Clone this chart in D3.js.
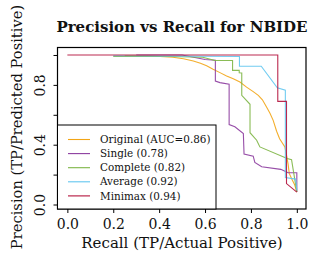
<!DOCTYPE html>
<html>
<head>
<meta charset="utf-8">
<script src="https://cdn.jsdelivr.net/npm/d3@7"></script>
<style>
  body { margin: 0; background: #fff; }
  text { font-family: 'DejaVu Serif', serif; fill: #111; }
</style>
</head>
<body>
<script>
// precision / recall points, [recall, precision]
const original = [[0.25, 0.997], [0.35, 0.995], [0.404, 0.99], [0.46, 0.985], [0.506, 0.975],
  [0.549, 0.96], [0.58, 0.945], [0.607, 0.928], [0.635, 0.905], [0.665, 0.882], [0.694, 0.86],
  [0.723, 0.841], [0.752, 0.819], [0.781, 0.785], [0.81, 0.755], [0.832, 0.73], [0.85, 0.70],
  [0.868, 0.652], [0.883, 0.61], [0.897, 0.563], [0.912, 0.49], [0.925, 0.44], [0.948, 0.385],
  [0.955, 0.33], [0.962, 0.27], [0.967, 0.208], [0.978, 0.17], [0.991, 0.13], [1.0, 0.083]]
const single = [[0.3, 1.0], [0.5, 1.0], [0.6, 0.97], [0.645, 0.965], [0.645, 0.825], [0.665, 0.815],
  [0.705, 0.805], [0.705, 0.535], [0.73, 0.52], [0.767, 0.475], [0.77, 0.337], [0.81, 0.323],
  [0.817, 0.281], [0.847, 0.252], [0.93, 0.235], [0.962, 0.212], [1.0, 0.212], [1.0, 0.145], [1.0, 0.083]]
const complete = [[0.2, 0.99], [0.45, 0.99], [0.59, 0.985], [0.643, 0.963], [0.72, 0.963],
  [0.72, 0.897], [0.749, 0.897], [0.749, 0.881], [0.76, 0.879], [0.76, 0.73], [0.796, 0.67],
  [0.796, 0.48], [0.825, 0.43], [0.839, 0.385], [0.958, 0.308], [0.977, 0.30], [1.0, 0.085]]
const average = [[0.2, 0.995], [0.75, 0.99], [0.75, 0.925], [0.845, 0.925], [0.915, 0.78],
  [0.95, 0.765], [0.95, 0.18], [0.995, 0.17], [1.0, 0.095]]
const minimax = [[0.0, 1.0], [0.917, 1.0], [0.917, 0.69], [0.955, 0.69], [0.955, 0.14], [1.0, 0.083]]

const seriesNames = ['Original (AUC=0.86)', 'Single (0.78)', 'Complete (0.82)', 'Average (0.92)', 'Minimax (0.94)']
const seriesColors = ['#f2a516', '#8c3b9f', '#7db544', '#62c6ef', '#b3123c']
const xTicks = [0, 0.2, 0.4, 0.6, 0.8, 1.0]
const yTicks = [0, 0.2, 0.4, 0.6, 0.8, 1.0]
const yLabelTicks = [0, 0.4, 0.8]

const series = [original, single, complete, average, minimax]

let width = 310
let height = 255
let margin = { left: 57.5, right: 4, top: 47.5, bottom: 46 }

let svg = d3.select('body').append('svg')
  .attr('width', width)
  .attr('height', height)

let x = d3.scaleLinear().domain([-0.043, 1.04]).range([margin.left, width - margin.right])
let y = d3.scaleLinear().domain([-0.03, 1.05]).range([height - margin.bottom, margin.top])

let line = d3.line().x(d => x(d[0])).y(d => y(d[1]))

// curves
svg.selectAll('.curve')
  .data(series)
  .enter().append('path')
  .attr('class', 'curve')
  .attr('d', line)
  .attr('fill', 'none')
  .attr('stroke', (d, i) => seriesColors[i])
  .attr('stroke-width', 1.1)
  .attr('stroke-opacity', 0.9)

// axes
let xAxis = svg.append('g')
  .attr('transform', 'translate(0,' + (height - margin.bottom) + ')')
  .call(d3.axisBottom(x).tickValues(xTicks).tickFormat(d3.format('.1f')).tickSizeInner(4).tickSizeOuter(0))
xAxis.select('.domain').remove()
xAxis.selectAll('text').attr('font-size', 14).attr('font-family', 'DejaVu Serif').attr('dy', '0.95em')

let yAxis = svg.append('g')
  .attr('transform', 'translate(' + margin.left + ',0)')
  .call(d3.axisLeft(y).tickValues(yTicks).tickFormat(d => yLabelTicks.includes(d) ? d3.format('.1f')(d) : '').tickSizeInner(4).tickSizeOuter(0))
yAxis.select('.domain').remove()
yAxis.selectAll('text')
  .attr('font-size', 14)
  .attr('font-family', 'DejaVu Serif')
  .attr('text-anchor', 'middle')
  .attr('x', null).attr('dy', null)
  .attr('transform', 'translate(-17,0) rotate(-90)')
  .attr('dy', '0.35em')

// frame
svg.append('rect')
  .attr('x', margin.left).attr('y', margin.top)
  .attr('width', width - margin.left - margin.right)
  .attr('height', height - margin.top - margin.bottom)
  .attr('fill', 'none').attr('stroke', '#000').attr('stroke-width', 1.2)

// legend
let legend = svg.append('g')
legend.append('rect')
  .attr('x', margin.left).attr('y', 125)
  .attr('width', 158.5).attr('height', height - margin.bottom - 125)
  .attr('fill', '#fff').attr('stroke', '#000').attr('stroke-width', 1)

let rows = legend.selectAll('.row')
  .data(seriesNames)
  .enter().append('g')
  .attr('transform', (d, i) => 'translate(0,' + (139.5 + i * 14.1) + ')')
rows.append('line')
  .attr('x1', 68).attr('x2', 90)
  .attr('stroke', (d, i) => seriesColors[i])
  .attr('stroke-width', 1.1)
rows.append('text')
  .attr('x', 100).attr('dy', '0.35em')
  .attr('font-size', 10.4)
  .text(d => d)

// titles
svg.append('text')
  .attr('x', 182).attr('y', 32)
  .attr('text-anchor', 'middle')
  .attr('font-size', 15)
  .attr('font-weight', 'bold')
  .text('Precision vs Recall for NBIDE')

svg.append('text')
  .attr('x', 182).attr('y', 248)
  .attr('text-anchor', 'middle')
  .attr('font-size', 15)
  .text('Recall (TP/Actual Positive)')

svg.append('text')
  .attr('transform', 'translate(22,' + 127 + ') rotate(-90)')
  .attr('text-anchor', 'middle')
  .attr('font-size', 14.7)
  .text('Precision (TP/Predicted Positive)')
</script>
</body>
</html>
